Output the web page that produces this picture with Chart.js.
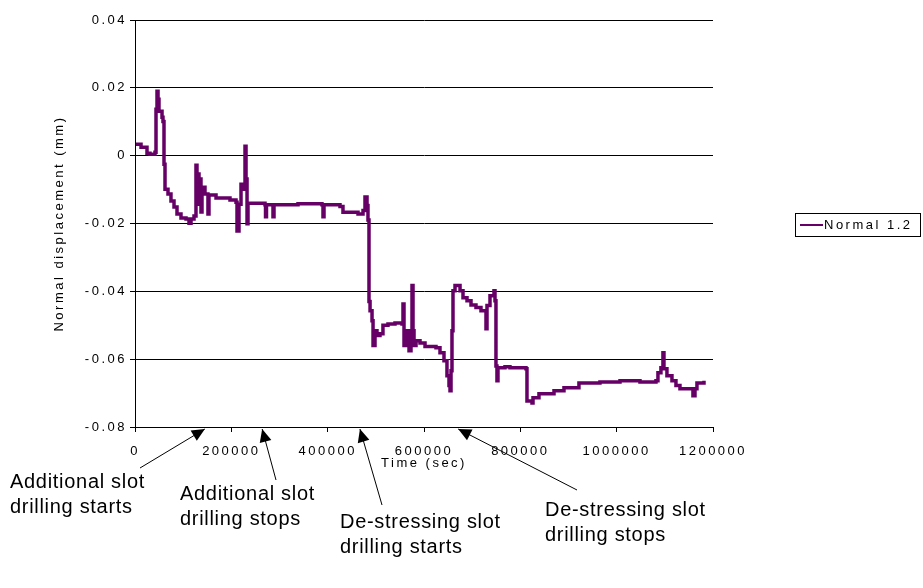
<!DOCTYPE html>
<html>
<head>
<meta charset="utf-8">
<script src="https://cdn.jsdelivr.net/npm/chart.js@4.4.1/dist/chart.umd.min.js"></script>
<style>
  html, body { margin: 0; padding: 0; background: #fff; }
  #wrap { width: 923px; height: 588px; }
</style>
</head>
<body>
<div id="wrap"><canvas id="myChart" width="923" height="588"></canvas></div>
<script>
// time (sec) and normal displacement (mm) for gauge "Normal 1.2"
const timeSec = [
  2000, 10400, 12500, 22800, 24900, 31100, 41500, 43600, 45700, 47800,
  49800, 56100, 58100, 60200, 62300, 68500, 74700, 81000, 87200, 95500,
  105900, 112100, 116300, 122500, 126600, 128700, 130800, 132900, 135000, 137000,
  139100, 145300, 151500, 153600, 166100, 168200, 193100, 197200, 209700, 211800,
  215900, 220100, 224200, 228400, 230500, 232600, 234600, 269900, 271000, 273000,
  284400, 286500, 288600, 338400, 388200, 390300, 392400, 425600, 431800, 463000,
  473400, 477500, 481700, 483700, 485800, 488000, 492100, 494200, 498300, 502400,
  508600, 514800, 525200, 539800, 554300, 556400, 558500, 564700, 568900, 573000,
  575100, 577200, 579300, 583400, 591700, 602100, 624900, 633200, 641500, 647700,
  651900, 654000, 656100, 658100, 660200, 664400, 670600, 674800, 681000, 689300,
  697600, 707900, 718300, 726600, 728700, 730800, 737000, 745300, 747400, 749400,
  751500, 753600, 768100, 778500, 811700, 813800, 824200, 826300, 836600, 838700,
  867800, 869900, 888500, 890600, 919700, 921700, 965300, 1006900, 1048400, 1081600,
  1085700, 1091900, 1096100, 1098200, 1104400, 1114800, 1123100, 1131400, 1156300, 1158400,
  1162600, 1166700, 1181300
];
const displacement = [
  0.0034, 0.0034, 0.0025, 0.0025, 0.0007, 0.0004, 0.0010, 0.0137, 0.0190, 0.0166,
  0.0131, 0.0113, 0.0101, -0.0025, -0.0099, -0.0113, -0.0134, -0.0151, -0.0172, -0.0184,
  -0.0187, -0.0199, -0.0187, -0.0178, -0.0028, -0.0128, -0.0054, -0.0143, -0.0069, -0.0166,
  -0.0093, -0.0113, -0.0172, -0.0116, -0.0116, -0.0125, -0.0125, -0.0131, -0.0137, -0.0222,
  -0.0143, -0.0084, -0.0099, 0.0028, -0.0069, -0.0201, -0.0140, -0.0145, -0.0180, -0.0145,
  -0.0145, -0.0180, -0.0145, -0.0142, -0.0145, -0.0180, -0.0145, -0.0150, -0.0167, -0.0172,
  -0.0162, -0.0122, -0.0147, -0.0190, -0.0430, -0.0457, -0.0487, -0.0560, -0.0516, -0.0530,
  -0.0525, -0.0500, -0.0496, -0.0493, -0.0496, -0.0437, -0.0560, -0.0516, -0.0575, -0.0516,
  -0.0383, -0.0516, -0.0560, -0.0546, -0.0552, -0.0563, -0.0566, -0.0581, -0.0605, -0.0649,
  -0.0678, -0.0693, -0.0634, -0.0516, -0.0398, -0.0383, -0.0383, -0.0398, -0.0419, -0.0428,
  -0.0440, -0.0448, -0.0457, -0.0457, -0.0510, -0.0442, -0.0413, -0.0398, -0.0428, -0.0620,
  -0.0664, -0.0625, -0.0622, -0.0625, -0.0628, -0.0723, -0.0729, -0.0714, -0.0714, -0.0702,
  -0.0702, -0.0693, -0.0693, -0.0684, -0.0684, -0.0670, -0.0667, -0.0664, -0.0667, -0.0664,
  -0.0640, -0.0625, -0.0581, -0.0628, -0.0649, -0.0664, -0.0678, -0.0687, -0.0687, -0.0708,
  -0.0687, -0.0670, -0.0664
];

const xTicks = [0, 200000, 400000, 600000, 800000, 1000000, 1200000];
const yTicks = [-0.08, -0.06, -0.04, -0.02, 0, 0.02, 0.04];
const yTickLabels = ['-0.08', '-0.06', '-0.04', '-0.02', '0', '0.02', '0.04'];

// drilling events marked under the time axis
const eventTimes = [145000, 264000, 467000, 671000];
const eventLabels = [
  ['Additional slot', 'drilling starts'],
  ['Additional slot', 'drilling stops'],
  ['De-stressing slot', 'drilling starts'],
  ['De-stressing slot', 'drilling stops']
];

const points = timeSec.map((t, i) => ({ x: t, y: displacement[i] }));
const FONT = '"Liberation Sans", Arial, sans-serif';

// old spreadsheet look: widely spaced small text
const spacing = {
  id: 'spacing',
  beforeDraw(chart) { chart.ctx.letterSpacing = '2.5px'; }
};

// legend box on the right
const sideLegend = {
  id: 'sideLegend',
  afterDraw(chart) {
    const ctx = chart.ctx;
    const ds = chart.data.datasets[0];
    ctx.save();
    ctx.letterSpacing = '2.5px';
    ctx.strokeStyle = '#000';
    ctx.lineWidth = 1;
    ctx.strokeRect(795.5, 213.5, 125, 23);
    ctx.strokeStyle = ds.borderColor;
    ctx.lineWidth = 2;
    ctx.beginPath();
    ctx.moveTo(800, 225);
    ctx.lineTo(823, 225);
    ctx.stroke();
    ctx.fillStyle = '#000';
    ctx.font = '13px ' + FONT;
    ctx.textBaseline = 'middle';
    ctx.fillText(ds.label, 824, 225);
    ctx.restore();
  }
};

// arrows and captions for the drilling events
const eventNotes = {
  id: 'eventNotes',
  afterDraw(chart) {
    const ctx = chart.ctx;
    const xs = chart.scales.x;
    const base = chart.chartArea.bottom;
    const layout = [
      { tx: 10, ty: 482, ax: 140, ay: 468 },
      { tx: 180, ty: 494, ax: 276, ay: 480 },
      { tx: 340, ty: 522, ax: 382, ay: 505 },
      { tx: 545, ty: 510, ax: 577, ay: 490 }
    ];
    ctx.save();
    ctx.letterSpacing = '0.7px';
    ctx.fillStyle = '#000';
    ctx.strokeStyle = '#000';
    ctx.font = '20px ' + FONT;
    ctx.textBaseline = 'middle';
    eventTimes.forEach((t, i) => {
      const L = layout[i];
      const tipX = xs.getPixelForValue(t);
      const tipY = base + 2;
      ctx.lineWidth = 1;
      ctx.beginPath();
      ctx.moveTo(L.ax, L.ay);
      ctx.lineTo(tipX, tipY);
      ctx.stroke();
      const ang = Math.atan2(tipY - L.ay, tipX - L.ax);
      const len = 13, half = 6;
      const bx = tipX - len * Math.cos(ang), by = tipY - len * Math.sin(ang);
      ctx.beginPath();
      ctx.moveTo(tipX, tipY);
      ctx.lineTo(bx + half * Math.sin(ang), by - half * Math.cos(ang));
      ctx.lineTo(bx - half * Math.sin(ang), by + half * Math.cos(ang));
      ctx.closePath();
      ctx.fill();
      eventLabels[i].forEach((line, k) => ctx.fillText(line, L.tx, L.ty + k * 25));
    });
    ctx.restore();
  }
};

new Chart(document.getElementById('myChart'), {
  type: 'line',
  data: {
    datasets: [{
      label: 'Normal 1.2',
      data: points,
      borderColor: '#660066',
      borderWidth: 3.5,
      pointRadius: 0,
      stepped: true,
      fill: false
    }]
  },
  options: {
    responsive: false,
    animation: false,
    layout: { padding: { left: 52, top: 20, right: 210, bottom: 117 } },
    plugins: { legend: { display: false }, tooltip: { enabled: false } },
    scales: {
      x: {
        type: 'linear',
        min: 0,
        max: 1200000,
        afterFit(scale) { scale.height = 44; },
        afterBuildTicks(scale) { scale.ticks = xTicks.map(v => ({ value: v })); },
        grid: { drawOnChartArea: false, drawTicks: true, tickLength: 5, color: '#000' },
        border: { display: true, color: '#000', width: 1 },
        ticks: {
          color: '#000',
          padding: 12,
          maxRotation: 0,
          autoSkip: false,
          font: { family: FONT, size: 13 },
          callback: v => String(v)
        },
        title: {
          display: true,
          text: 'Time (sec)',
          color: '#000',
          padding: 0,
          font: { family: FONT, size: 13 }
        }
      },
      y: {
        type: 'linear',
        min: -0.08,
        max: 0.04,
        afterFit(scale) { scale.width = 83; },
        afterBuildTicks(scale) { scale.ticks = yTicks.map(v => ({ value: v })); },
        grid: { drawTicks: true, tickLength: 5, color: '#000', lineWidth: 1 },
        border: { display: true, color: '#000', width: 1 },
        ticks: {
          color: '#000',
          padding: 3,
          font: { family: FONT, size: 13 },
          callback: (v, i) => yTickLabels[i]
        },
        title: {
          display: true,
          text: 'Normal displacement (mm)',
          color: '#000',
          padding: 0,
          font: { family: FONT, size: 13 }
        }
      }
    }
  },
  plugins: [spacing, sideLegend, eventNotes]
});
</script>
</body>
</html>
